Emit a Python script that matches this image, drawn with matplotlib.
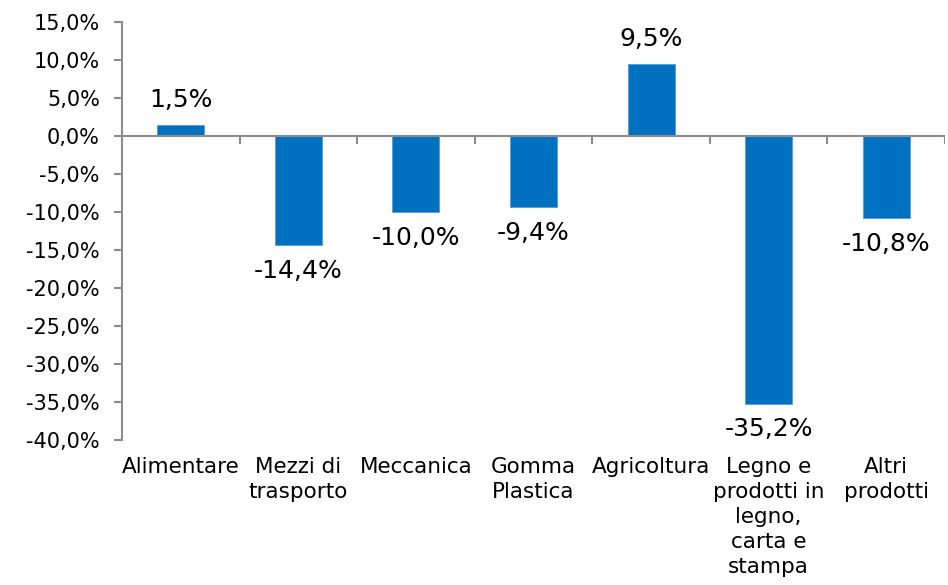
import numpy as np
import matplotlib.pyplot as plt

categories = ["Alimentare", "Mezzi di\ntrasporto", "Meccanica", "Gomma\nPlastica",
              "Agricoltura", "Legno e\nprodotti in\nlegno,\ncarta e\nstampa", "Altri\nprodotti"]
values = [1.5, -14.4, -10.0, -9.4, 9.5, -35.2, -10.8]
yticks = np.arange(-40, 16, 5)

blue = "#0070C0"
grey = "#8C8C8C"

fig = plt.figure(figsize=(9.48, 5.85), dpi=100)
ax = fig.add_axes([122 / 948, 1 - 440 / 585, 823 / 948, 418 / 585])

x = np.arange(len(values))
ax.bar(x, values, width=0.4, color=blue, edgecolor="#5B9BD5", linewidth=0.6, zorder=2)

for xi, v in zip(x, values):
    lab = ("%.1f%%" % v).replace(".", ",")
    if v >= 0:
        ax.annotate(lab, (xi, v), xytext=(0, 9), textcoords="offset points",
                    ha="center", va="bottom", fontsize=18)
    else:
        ax.annotate(lab, (xi, v), xytext=(0, -10), textcoords="offset points",
                    ha="center", va="top", fontsize=18)

ax.set_xlim(-0.5, len(values) - 0.5)
ax.set_ylim(-40, 15)
ax.set_yticks(yticks)
ax.set_yticklabels([("%.1f%%" % t).replace(".", ",") for t in yticks], fontsize=15)
ax.tick_params(axis="y", direction="out", length=6, color=grey, width=1.5, pad=10)

# horizontal line at zero with separators between categories
ax.axhline(0, color=grey, linewidth=1.5, zorder=3)
for b in np.arange(0.5, len(values), 1.0):
    ax.plot([b, b], [0, -0.9], color=grey, linewidth=1.5, zorder=3)

ax.set_xticks([])
for xi, c in zip(x, categories):
    ax.text(xi, -42.3, c, ha="center", va="top", fontsize=15.5, linespacing=1.3)

for s in ["top", "right", "bottom"]:
    ax.spines[s].set_visible(False)
ax.spines["left"].set_color(grey)
ax.spines["left"].set_linewidth(1.5)

fig.savefig("out.png", dpi=100)
